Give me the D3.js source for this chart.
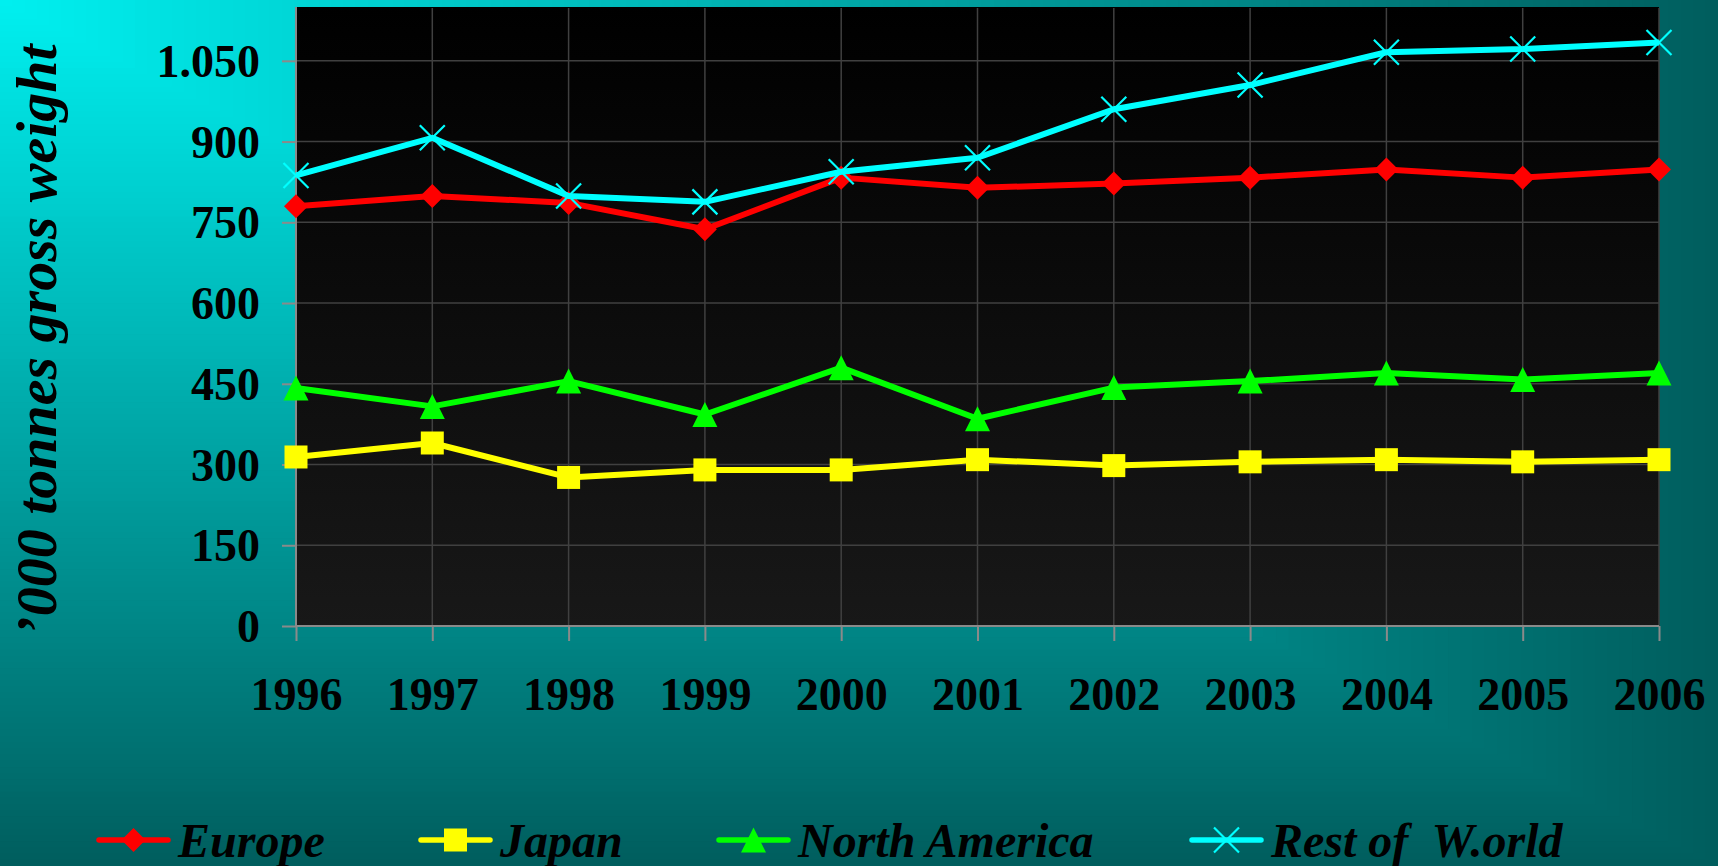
<!DOCTYPE html>
<html>
<head>
<meta charset="utf-8">
<script src="https://cdn.jsdelivr.net/npm/d3@7"></script>
<style>
  html, body { margin: 0; padding: 0; overflow: hidden; background: #006060; }
  svg { display: block; }
</style>
</head>
<body>
<div id="chart"></div>
<script>
const years = [1996, 1997, 1998, 1999, 2000, 2001, 2002, 2003, 2004, 2005, 2006];
const europe = [780, 799, 786, 737, 833, 814, 822, 833, 848, 833, 848];
const japan = [314, 340, 276, 290, 290, 309, 298, 305, 309, 305, 309];
const northAmerica = [442, 408, 455, 393, 480, 385, 443, 455, 470, 458, 470];
const restOfWorld = [837, 907, 799, 788, 844, 870, 960, 1005, 1066, 1072, 1084];
const yTicks = [0, 150, 300, 450, 600, 750, 900, 1050];
const seriesNames = ["Europe", "Japan", "North America", "Rest of  W.orld"];

const W = 1718, H = 866;
const margin = { top: 7, right: 59, left: 296 };
const plotBottom = 626;

const svg = d3.select("#chart").append("svg").attr("width", W).attr("height", H);

// background: rectangular gradient out of the top-left corner
const bgColor = d3.interpolateRgb("#00f0f0", "#005e5e");
const steps = 140;
svg.append("g")
  .selectAll("rect")
  .data(d3.range(steps, 0, -1))
  .join("rect")
  .attr("x", 0)
  .attr("y", 0)
  .attr("width", (d) => (W * d) / steps)
  .attr("height", (d) => (H * d) / steps)
  .attr("fill", (d) => bgColor(d / steps));

const defs = svg.append("defs");
const plotGrad = defs.append("linearGradient")
  .attr("id", "plotbg").attr("x1", 0).attr("y1", 0).attr("x2", 0).attr("y2", 1);
plotGrad.append("stop").attr("offset", "0%").attr("stop-color", "#000000");
plotGrad.append("stop").attr("offset", "100%").attr("stop-color", "#181818");

const x = d3.scalePoint().domain(years).range([margin.left, W - margin.right]);
const y = d3.scaleLinear().domain([0, 1150]).range([plotBottom, margin.top]);

const locale = d3.formatLocale({ decimal: ",", thousands: ".", grouping: [3], currency: ["", ""] });
const fmt = locale.format(",d");

// plot area
svg.append("rect")
  .attr("x", x(years[0]))
  .attr("y", y(1150))
  .attr("width", x(years[years.length - 1]) - x(years[0]))
  .attr("height", y(0) - y(1150))
  .attr("fill", "url(#plotbg)");

// grid
const grid = svg.append("g").attr("stroke", "#404040").attr("stroke-width", 1.5);
grid.selectAll(".hg")
  .data(yTicks.slice(1))
  .join("line")
  .attr("x1", x(years[0]))
  .attr("x2", x(years[years.length - 1]))
  .attr("y1", (d) => y(d))
  .attr("y2", (d) => y(d));
grid.selectAll(".vg")
  .data(years.slice(1))
  .join("line")
  .attr("x1", (d) => x(d))
  .attr("x2", (d) => x(d))
  .attr("y1", y(1150) + 1)
  .attr("y2", y(0));

// axes
const yAxis = svg.append("g")
  .attr("transform", `translate(${x(years[0])},0)`)
  .call(d3.axisLeft(y).tickValues(yTicks).tickFormat(fmt).tickSize(14).tickPadding(22));
const xAxis = svg.append("g")
  .attr("transform", `translate(0,${y(0)})`)
  .call(d3.axisBottom(x).tickSize(15).tickPadding(36));

[yAxis, xAxis].forEach((g) => {
  g.select(".domain").attr("stroke", "#8a8a8a").attr("stroke-width", 2);
  g.selectAll(".tick line").attr("stroke", "#8a8a8a").attr("stroke-width", 2);
  g.selectAll(".tick text")
    .attr("fill", "#000")
    .style("font-family", "'Liberation Serif', 'Times New Roman', serif")
    .style("font-weight", "bold")
    .style("font-size", "46px");
});
yAxis.select(".domain").attr("d", `M0,${y(0)}V${y(1150)}`);
xAxis.select(".domain").attr("d", `M${x(years[0])},0H${x(years[years.length - 1])}`);
yAxis.selectAll(".tick text").attr("dy", "0.34em");

// y title
svg.append("text")
  .attr("transform", `translate(56,340) rotate(-90)`)
  .attr("text-anchor", "middle")
  .style("font-family", "'Liberation Serif', 'Times New Roman', serif")
  .style("font-weight", "bold")
  .style("font-style", "italic")
  .style("font-size", "58px")
  .text("’000 tonnes gross weight");

// markers
const shapes = {
  diamond: (s) => `M0,${-s}L${s},0L0,${s}L${-s},0Z`,
  square: (s) => `M${-s},${-s}H${s}V${s}H${-s}Z`,
  triangle: (s) => `M0,${-s}L${s},${s}H${-s}Z`,
  cross: (s) => `M${-s},${-s}L${s},${s}M${s},${-s}L${-s},${s}`,
};

const series = [
  { name: seriesNames[0], values: europe, color: "#ff0000", shape: "diamond", size: 12 },
  { name: seriesNames[1], values: japan, color: "#ffff00", shape: "square", size: 11.5 },
  { name: seriesNames[2], values: northAmerica, color: "#00ff00", shape: "triangle", size: 12.5 },
  { name: seriesNames[3], values: restOfWorld, color: "#00ffff", shape: "cross", size: 12.5 },
];

const line = d3.line().x((d) => x(d.year)).y((d) => y(d.value));

function drawMarker(sel, s) {
  if (s.shape === "cross") {
    sel.attr("fill", "none").attr("stroke", s.color).attr("stroke-width", 2.2);
  } else {
    sel.attr("fill", s.color).attr("stroke", "none");
  }
  sel.attr("d", shapes[s.shape](s.size));
}

series.forEach((s) => {
  const pts = years.map((yr, i) => ({ year: yr, value: s.values[i] }));
  const g = svg.append("g");
  g.append("path")
    .datum(pts)
    .attr("d", line)
    .attr("fill", "none")
    .attr("stroke", s.color)
    .attr("stroke-width", 6)
    .attr("stroke-linejoin", "round");
  g.selectAll("path.m")
    .data(pts)
    .join("path")
    .attr("class", "m")
    .attr("transform", (d) => `translate(${x(d.year)},${y(d.value)})`)
    .call(drawMarker, s);
});

// legend
const legendX = [99, 421, 719, 1192];
const legend = svg.append("g")
  .selectAll("g")
  .data(series)
  .join("g")
  .attr("transform", (d, i) => `translate(${legendX[i]},840)`);
legend.append("line")
  .attr("x1", 0).attr("x2", 69)
  .attr("stroke", (d) => d.color)
  .attr("stroke-width", 5.5)
  .attr("stroke-linecap", "round");
legend.append("path")
  .attr("transform", "translate(34.5,0)")
  .each(function (d) { d3.select(this).call(drawMarker, d); });
legend.append("text")
  .attr("x", 79)
  .attr("y", 17)
  .style("font-family", "'Liberation Serif', 'Times New Roman', serif")
  .style("font-weight", "bold")
  .style("font-style", "italic")
  .style("font-size", "48px")
  .style("white-space", "pre")
  .text((d) => d.name);
</script>
</body>
</html>
